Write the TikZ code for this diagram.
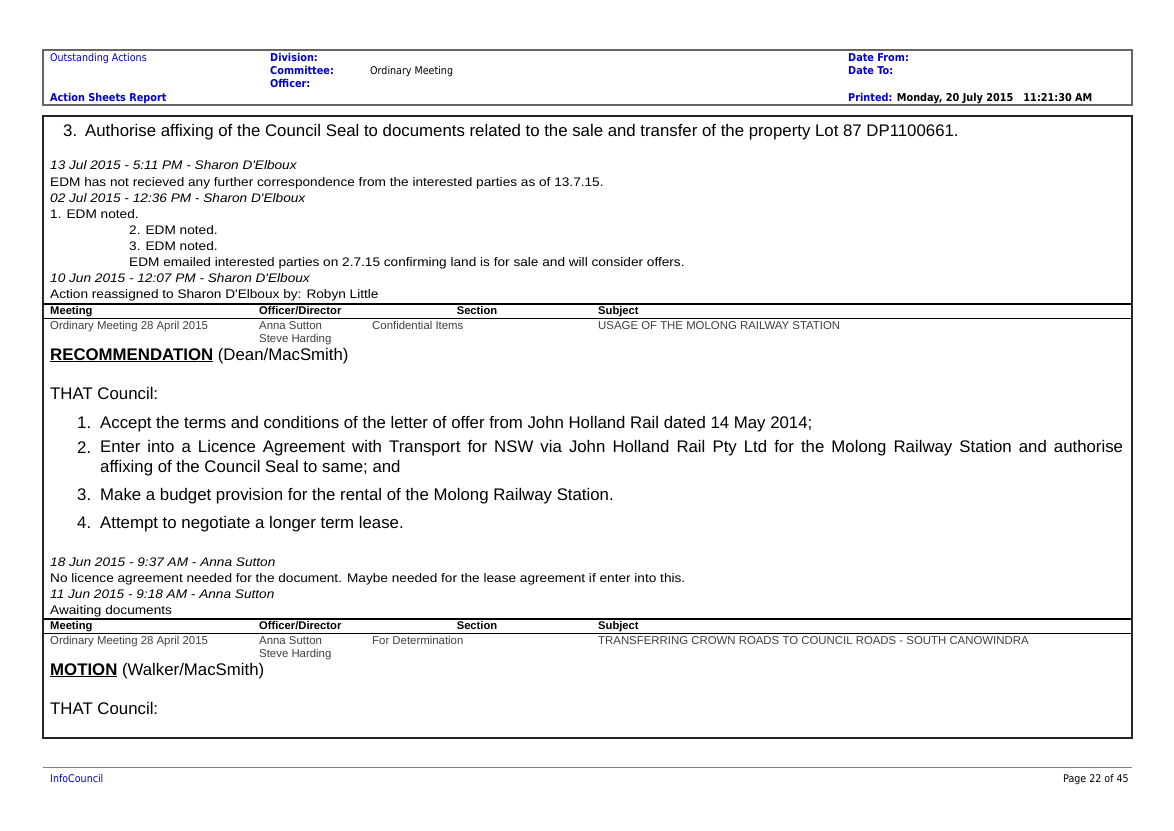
\documentclass[tikz,border=0pt]{standalone}
\usepackage{fontspec}
\setmainfont{Liberation Sans}
\newfontfamily\wide[FakeStretch=1.1]{Liberation Sans}
\newfontfamily\hdr{DejaVu Sans Condensed}
\begin{document}
\begin{tikzpicture}[x=1pt,y=-1pt,
  t/.style={anchor=base west,inner sep=0pt},
  tr/.style={anchor=base east,inner sep=0pt},
  hb/.style={t,font=\hdr\bfseries\fontsize{10.8}{12}\selectfont,text=blue!80!black},
  hn/.style={t,font=\hdr\fontsize{10.6}{12}\selectfont},
  sm/.style={t,font=\wide\fontsize{12.4}{14}\selectfont},
  smi/.style={t,font=\wide\itshape\fontsize{12.4}{14}\selectfont},
  tb/.style={t,font=\fontsize{11.4}{13}\selectfont,text=black!75},
  th/.style={t,font=\bfseries\fontsize{11.2}{13}\selectfont},
  big/.style={t,font=\fontsize{16.8}{20}\selectfont}]
\useasboundingbox (0,0) rectangle (1174,830);
\fill[white] (0,0) rectangle (1174,830);
% header
\draw[black!60,line width=1.2pt] (43,50) rectangle (1132,105);
\node[hn,text=blue!80!black] (h1) at (50,61) {Outstanding Actions};
\node[hb] (h2) at (50,101) {Action Sheets Report};
\node[hb] (h3) at (270,61) {Division:};
\node[hb] (h4) at (270,74) {Committee:};
\node[hb] (h5) at (270,87) {Officer:};
\node[hn] (h6) at (370,74) {Ordinary Meeting};
\node[hb] (h7) at (848,61) {Date From:};
\node[hb] (h8) at (848,74) {Date To:};
\node[hb] (h9) at (848,101) {Printed: \textcolor{black}{Monday, 20 July 2015\hspace{10pt}11:21:30 AM}};
% main
\draw[black!85,line width=1.5pt] (43,116) rectangle (1132,738);
\node[big] (a1) at (63,136) {3.};
\node[big] (a2) at (85,136) {Authorise affixing of the Council Seal to documents related to the sale and transfer of the property Lot 87 DP1100661.};
\node[smi] (b1) at (50,169) {13 Jul 2015 - 5:11 PM - Sharon D'Elboux};
\node[sm] (b2) at (50,186) {EDM has not recieved any further correspondence from the interested parties as of 13.7.15.};
\node[smi] (b3) at (50,202) {02 Jul 2015 - 12:36 PM - Sharon D'Elboux};
\node[sm] (b4) at (50,218) {1. EDM noted.};
\node[sm] (b5) at (129,234) {2. EDM noted.};
\node[sm] (b6) at (129,250) {3. EDM noted.};
\node[sm] (b7) at (129,266) {EDM emailed interested parties on 2.7.15 confirming land is for sale and will consider offers.};
\node[smi] (b8) at (50,282) {10 Jun 2015 - 12:07 PM - Sharon D'Elboux};
\node[sm] (b9) at (50,298) {Action reassigned to Sharon D'Elboux by: Robyn Little};
% table 1
\draw[line width=1.3pt] (43,304) -- (1132,304);
\draw[line width=0.8pt] (43,318) -- (1132,318);
\node[th] (c1) at (50,314) {Meeting};
\node[th] (c2) at (259,314) {Officer/Director};
\node[th,anchor=base] (c3) at (477,314) {Section};
\node[th] (c4) at (598,314) {Subject};
\node[tb] (d1) at (50,329) {Ordinary Meeting 28 April 2015};
\node[tb] (d2) at (259,329) {Anna Sutton};
\node[tb] (d3) at (259,342) {Steve Harding};
\node[tb] (d4) at (372,329) {Confidential Items};
\node[tb] (d5) at (598,329) {USAGE OF THE MOLONG RAILWAY STATION};
\node[big] (e1) at (50,360) {\textbf{\underline{RECOMMENDATION}} (Dean/MacSmith)};
\node[big] (e2) at (50,399) {THAT Council:};
\node[big] (f1) at (77,428) {1.};
\node[big] (f1t) at (100,428) {Accept the terms and conditions of the letter of offer from John Holland Rail dated 14 May 2014;};
\node[big] (f2) at (77,453) {2.};
\node[big,anchor=north west,text width=1023pt,align=justify] (f2t) at (100,440) {Enter into a Licence Agreement with Transport for NSW via John Holland Rail Pty Ltd for the Molong Railway Station and authorise\linebreak affixing of the Council Seal to same; and};
\node[big] (f3) at (77,500) {3.};
\node[big] (f3t) at (100,500) {Make a budget provision for the rental of the Molong Railway Station.};
\node[big] (f4) at (77,528) {4.};
\node[big] (f4t) at (100,528) {Attempt to negotiate a longer term lease.};
\node[smi] (g1) at (50,566) {18 Jun 2015 - 9:37 AM - Anna Sutton};
\node[sm] (g2) at (50,582) {No licence agreement needed for the document. Maybe needed for the lease agreement if enter into this.};
\node[smi] (g3) at (50,598) {11 Jun 2015 - 9:18 AM - Anna Sutton};
\node[sm] (g4) at (50,614) {Awaiting documents};
% table 2
\draw[line width=1.3pt] (43,619) -- (1132,619);
\draw[line width=0.8pt] (43,633) -- (1132,633);
\node[th] (k1) at (50,629) {Meeting};
\node[th] (k2) at (259,629) {Officer/Director};
\node[th,anchor=base] (k3) at (477,629) {Section};
\node[th] (k4) at (598,629) {Subject};
\node[tb] (m1) at (50,644) {Ordinary Meeting 28 April 2015};
\node[tb] (m2) at (259,644) {Anna Sutton};
\node[tb] (m3) at (259,657) {Steve Harding};
\node[tb] (m4) at (372,644) {For Determination};
\node[tb] (m5) at (598,644) {TRANSFERRING CROWN ROADS TO COUNCIL ROADS - SOUTH CANOWINDRA};
\node[big] (n1) at (50,675) {\textbf{\underline{MOTION}} (Walker/MacSmith)};
\node[big] (n2) at (50,714) {THAT Council:};
% footer
\draw[black!50,line width=0.6pt] (43,767) -- (1132,767);
\node[hn,text=blue!80!black] (p1) at (50,782) {InfoCouncil};
\node[hn,tr] (p2) at (1129,782) {Page 22 of 45};
\end{tikzpicture}
\end{document}
